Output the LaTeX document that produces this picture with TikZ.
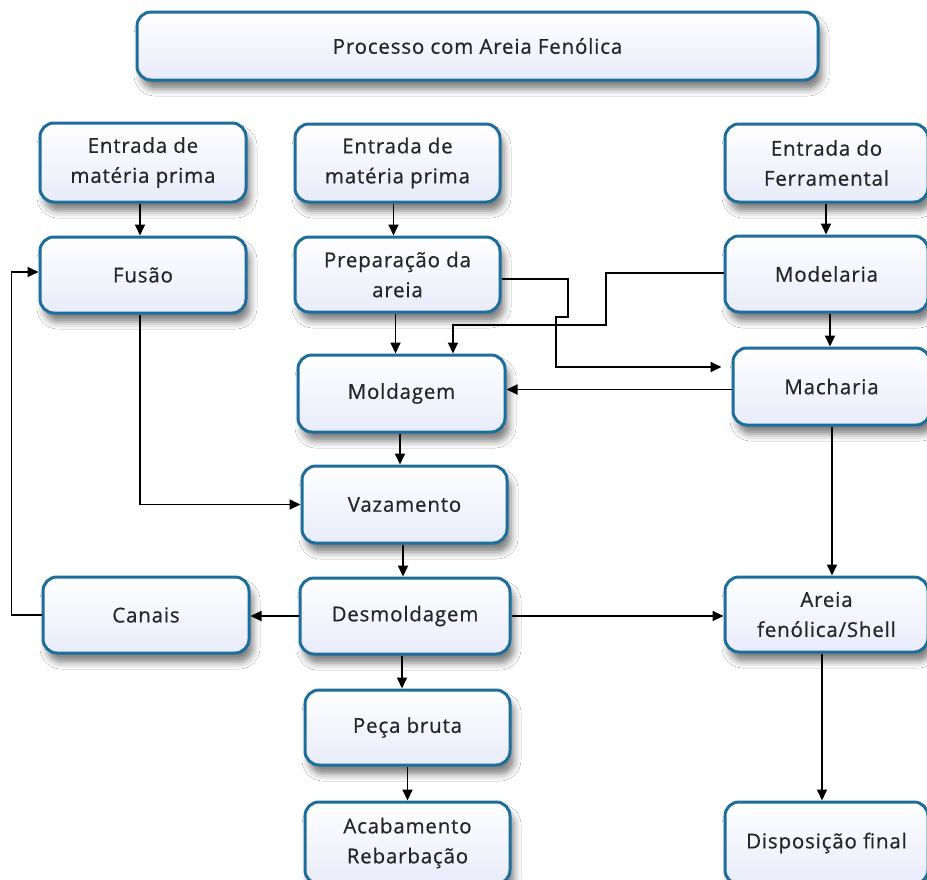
\documentclass[tikz,border=0pt]{standalone}
\usepackage{fontspec}
\setmainfont{Open Sans}[LetterSpace=4,FakeBold=0.6]
\usetikzlibrary{shadows.blur,arrows.meta,calc}
\definecolor{boxline}{HTML}{1D6E9A}
\definecolor{boxbot}{HTML}{E8EBFA}
\definecolor{txt}{HTML}{262626}
\tikzset{
  pbox/.style={draw=boxline, line width=3pt, rounded corners=14pt,
    top color=white, bottom color=boxbot, text=txt, align=center,
    inner sep=0pt, font=\fontsize{20.5}{30}\selectfont,
    blur shadow={shadow xshift=4pt, shadow yshift=-9pt, shadow blur radius=7pt, shadow opacity=50}},
  arr/.style={line width=1.8pt, -{Triangle[length=11pt,width=10pt]}},
  ln/.style={line width=1.8pt}
}
\newcommand{\bx}[7]{% name, x1, x2, y1, y2, text, extra
  \node[pbox, minimum width={#3-#2}, minimum height={#5-#4}, #7] (#1) at ({(#2+#3)/2},{-(#4+#5)/2}) {#6};}
\begin{document}
\begin{tikzpicture}[x=1pt,y=1pt]
\useasboundingbox (0,0) rectangle (927,-879);
\clip (0,0) rectangle (927,-879);
\fill[white] (0,0) rectangle (927,-879);
\bx{title}{137}{818}{12}{80}{Processo com Areia Fenólica}{}
\bx{e1}{40}{246}{123}{202}{Entrada de\\matéria prima}{}
\bx{e2}{295}{500}{124}{202}{Entrada de\\matéria prima}{}
\bx{ferr}{725}{928}{124}{202}{Entrada do\\Ferramental}{}
\bx{fus}{40}{246}{237}{313}{Fusão}{}
\bx{prep}{295}{500}{237}{312}{Preparação da\\areia}{}
\bx{mod}{725}{928}{236}{312}{Modelaria}{}
\bx{mold}{298}{505}{355}{432}{Moldagem}{}
\bx{mach}{733}{930}{348}{425}{Macharia}{}
\bx{vaz}{302}{507}{466}{543}{Vazamento}{}
\bx{canais}{43}{249}{577}{653}{Canais}{}
\bx{desm}{300}{510}{578}{654}{Desmoldagem}{}
\bx{areia}{725}{928}{577}{652}{Areia\\fenólica/Shell}{}
\bx{peca}{305}{510}{690}{765}{Peça bruta}{}
\bx{acab}{305}{510}{802}{878}{Acabamento\\Rebarbação}{minimum height=82pt, yshift=-3pt}
\bx{disp}{725}{928}{802}{878}{Disposição final}{minimum height=82pt, yshift=-3pt}
% connectors
\draw[arr] ([xshift=-3pt]e1.south) -- ([xshift=-3pt]e1.south |- fus.north);
\draw[arr] ([xshift=-4pt]e2.south) -- ([xshift=-4pt]e2.south |- prep.north);
\draw[arr] ([xshift=-0.5pt]ferr.south) -- ([xshift=-0.5pt]ferr.south |- mod.north);
\draw[arr] ([xshift=-2pt]prep.south) -- ([xshift=-2pt]prep.south |- mold.north);
\draw[arr] ([xshift=3.5pt]mod.south) -- ([xshift=3.5pt]mod.south |- mach.north);
\draw[arr] ([xshift=-1.5pt]mold.south) -- ([xshift=-1.5pt]mold.south |- vaz.north);
\draw[arr] ([xshift=-1.5pt]vaz.south) -- ([xshift=-1.5pt]vaz.south |- desm.north);
\draw[arr] ([xshift=-3pt]desm.south) -- ([xshift=-3pt]desm.south |- peca.north);
\draw[arr] (peca.south) -- (peca.south |- acab.north);
\draw[arr] ([xshift=0.5pt]mach.south) -- ([xshift=0.5pt]mach.south |- areia.north);
\draw[arr] ([xshift=-4.5pt]areia.south) -- ([xshift=-4.5pt]areia.south |- disp.north);
\draw[arr] ([xshift=-3pt]fus.south) |- (vaz.west);
\draw[arr] ([yshift=-3pt]mach.west) -- ([yshift=-3pt]mach.west -| mold.east);
\draw[arr] (desm.west) -- (desm.west -| canais.east);
\draw[arr] (desm.east) -- (desm.east -| areia.west);
\draw[arr] (canais.west) -- ++(-30,0) |- ([yshift=3pt]fus.west);
\coordinate (m1) at (606,-325);
\draw[arr] ([yshift=1pt]mod.west) -| (m1) -| ([xshift=51.5pt]mold.north);
\coordinate (p1) at (568,-317);
\draw[arr, shorten >=10pt] ([yshift=-4.5pt]prep.east) -| (p1) -- ++(-12,0) |- ([yshift=19.5pt]mach.west);
\end{tikzpicture}
\end{document}
